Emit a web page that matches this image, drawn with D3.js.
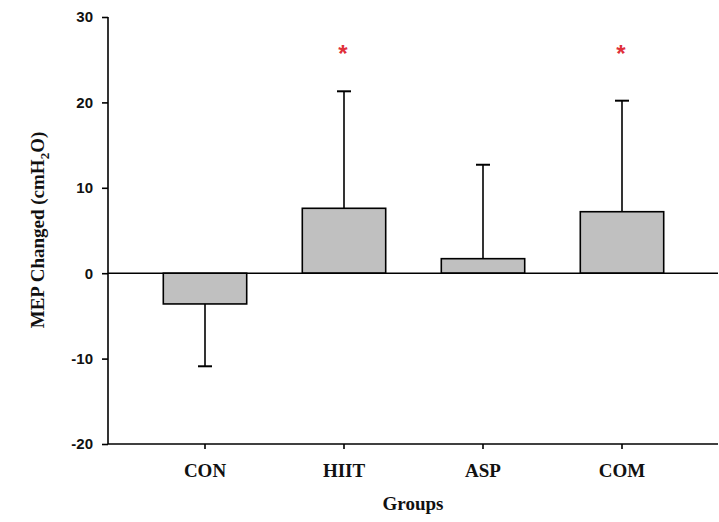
<!DOCTYPE html>
<html><head><meta charset="utf-8">
<script src="https://cdn.jsdelivr.net/npm/d3@7/dist/d3.min.js"></script>
<style>body{margin:0;background:#fff}svg{display:block}</style>
</head><body>
<svg id="c" width="719" height="522"></svg>
<script>
const categories = ["CON","HIIT","ASP","COM"];
const means = [-3.6, 7.6, 1.7, 7.2];
const errors = [-7.3, 13.7, 11.0, 13.0];
const significant = [false, true, false, true];
const yTicks = [-20,-10,0,10,20,30];

const svg = d3.select("#c");
const axX0 = 108, axX1 = 718;
const y = d3.scaleLinear().domain([-20,30]).range([444,17]);
const x = d3.scaleBand().domain(categories).range([135.5,691.5]).padding(0);
const bw = x.bandwidth()*0.6;

// y axis
const ya = svg.append("g").attr("transform",`translate(${axX0},0)`)
  .call(d3.axisLeft(y).tickValues(yTicks).tickSize(6).tickPadding(9).tickFormat(d => String(d)));
ya.select(".domain").attr("stroke","#000").attr("stroke-width",1.6).attr("d",`M0,${y(-20)}V${y(30)}`);
ya.selectAll(".tick line").attr("stroke","#000").attr("stroke-width",1.6);
ya.selectAll(".tick text").attr("font-family","Liberation Sans, Arial, sans-serif").attr("font-weight","bold").attr("font-size",15).attr("fill","#111");

// x axis at bottom
const xa = svg.append("g").attr("transform",`translate(0,${y(-20)})`)
  .call(d3.axisBottom(x).tickSize(5).tickPadding(15));
xa.select(".domain").attr("stroke","#000").attr("stroke-width",1.6).attr("d",`M${axX0},0H${axX1}`);
xa.selectAll(".tick line").attr("stroke","#000").attr("stroke-width",1.6);
xa.selectAll(".tick text").attr("font-family","Liberation Serif, Times New Roman, serif").attr("font-weight","bold").attr("font-size",19).attr("fill","#111");

// error bars
const cx = c => x(c)+x.bandwidth()/2;
const eg = svg.append("g").attr("stroke","#000").attr("stroke-width",1.6);
categories.forEach((c,i)=>{
  const end = means[i]+errors[i];
  eg.append("line").attr("x1",cx(c)).attr("x2",cx(c)).attr("y1",y(means[i])).attr("y2",y(end));
  eg.append("line").attr("x1",cx(c)-7).attr("x2",cx(c)+7).attr("y1",y(end)).attr("y2",y(end)).attr("stroke-width",2);
});

// bars
svg.append("g").selectAll("rect").data(categories).join("rect")
  .attr("x",c=>cx(c)-bw/2).attr("width",bw)
  .attr("y",(c,i)=>y(Math.max(0,means[i])))
  .attr("height",(c,i)=>Math.abs(y(means[i])-y(0)))
  .attr("fill","#c0c0c0").attr("stroke","#000").attr("stroke-width",1.6);

// zero line
svg.append("line").attr("x1",axX0).attr("x2",axX1).attr("y1",y(0)).attr("y2",y(0))
  .attr("stroke","#000").attr("stroke-width",1.6);

// asterisks
categories.forEach((c,i)=>{
  if(significant[i]) svg.append("text").attr("x",cx(c)-1).attr("y",y(26.5)+15)
    .attr("text-anchor","middle").attr("font-family","Liberation Sans, Arial, sans-serif")
    .attr("font-size",24).attr("font-weight","bold").attr("fill","#e0303a").text("*");
});

// axis titles
svg.append("text").attr("x",413).attr("y",510).attr("text-anchor","middle")
  .attr("font-family","Liberation Serif, Times New Roman, serif").attr("font-weight","bold").attr("font-size",19).attr("fill","#111").text("Groups");
const yt = svg.append("text").attr("transform","translate(44,230) rotate(-90)").attr("text-anchor","middle")
  .attr("font-family","Liberation Serif, Times New Roman, serif").attr("font-weight","bold").attr("font-size",19).attr("fill","#111");
yt.append("tspan").text("MEP Changed (cmH");
yt.append("tspan").attr("font-size",13).attr("dy",5).text("2");
yt.append("tspan").attr("dy",-5).text("O)");
</script>
</body></html>
